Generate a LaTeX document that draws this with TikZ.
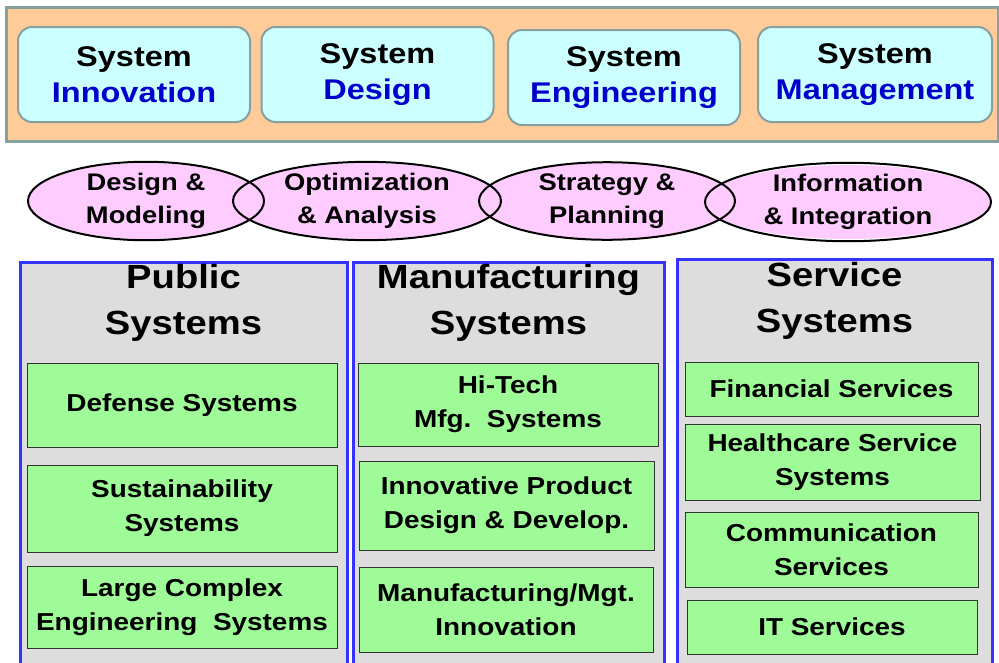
\documentclass[tikz,border=0pt]{standalone}
\usepackage{fontspec}
\setmainfont{Liberation Sans}[FakeStretch=1.14]
\usetikzlibrary{shapes.geometric}
\definecolor{peach}{HTML}{FFCC99}
\definecolor{tealgray}{HTML}{86A0A0}
\definecolor{lcyan}{HTML}{CCFFFF}
\definecolor{dblue}{HTML}{0000CC}
\definecolor{lpink}{HTML}{FFCCFF}
\definecolor{lgray}{HTML}{DDDDDD}
\definecolor{cblue}{HTML}{3333FF}
\definecolor{lgreen}{HTML}{9FFA98}
\tikzset{
  topbox/.style={draw=tealgray, line width=2pt, fill=lcyan, rounded corners=14pt,
    minimum width=232pt, minimum height=95pt, align=center, inner sep=0pt,
    font=\fontsize{28.5pt}{38pt}\selectfont\bfseries},
  ovaltext/.style={draw=black, line width=2pt, ellipse, minimum height=76pt, inner sep=0pt,
    align=center, font=\fontsize{24pt}{33pt}\selectfont\bfseries},
  colbox/.style={draw=cblue, line width=3pt, fill=lgray},
  colhead/.style={align=center, inner sep=0pt, font=\fontsize{33.5pt}{46pt}\selectfont\bfseries},
  gbox/.style={draw=black!80, line width=0.8pt, fill=lgreen, align=center, inner sep=0pt,
    font=\fontsize{24.5pt}{34pt}\selectfont\bfseries}
}
\begin{document}
\begin{tikzpicture}[x=1pt,y=-1pt]
\useasboundingbox (0,0) rectangle (999,662);
\begin{scope}
\clip (0,0) rectangle (999,662);
% top band
\node[draw=tealgray, line width=2.5pt, fill=peach, minimum width=992pt, minimum height=134pt, anchor=north west, inner sep=0pt] (band) at (5,6) {};
\node[topbox] (t1) at (134,74.5) {System\\[-2pt]\textcolor{dblue}{Innovation}};
\node[topbox] (t2) at (377.5,74.5) {System\\[-2pt]\textcolor{dblue}{Design}};
\node[topbox] (t3) at (624,77.5) {System\\[-2pt]\textcolor{dblue}{Engineering}};
\node[topbox, minimum width=234pt] (t4) at (875,74.5) {System\\[-2pt]\textcolor{dblue}{Management}};
% ellipses: fills first
\fill[lpink] (146,201) ellipse [x radius=118, y radius=38];
\fill[lpink] (367,201) ellipse [x radius=134, y radius=38];
\fill[lpink] (607,201) ellipse [x radius=128, y radius=38];
\fill[lpink] (848,202) ellipse [x radius=143, y radius=37];
\node[ovaltext, minimum width=236pt] (e1) at (146,201) {Design \&\\Modeling};
\node[ovaltext, minimum width=268pt] (e2) at (367,201) {Optimization\\\& Analysis};
\node[ovaltext, minimum width=256pt] (e3) at (607,201) {Strategy \&\\Planning};
\node[ovaltext, minimum width=286pt, minimum height=74pt] (e4) at (848,202) {Information\\\& Integration};
% columns
\draw[colbox] (20,670) -- (20,262) -- (347,262) -- (347,670);
\draw[colbox] (353,670) -- (353,262) -- (664,262) -- (664,670);
\draw[colbox] (677,670) -- (677,259) -- (992,259) -- (992,670);
\node[colhead] (h1) at (183.5,303) {Public\\Systems};
\node[colhead] (h2) at (508.5,303) {Manufacturing\\Systems};
\node[colhead] (h3) at (834.5,301) {Service\\Systems};
% public
\node[gbox, minimum width=310pt, minimum height=84pt] (p1) at (182,405) {Defense Systems};
\node[gbox, minimum width=310pt, minimum height=87pt] (p2) at (182,508.5) {Sustainability\\Systems};
\node[gbox, minimum width=310pt, minimum height=82pt] (p3) at (182,607) {Large Complex\\Engineering~~Systems};
% manufacturing
\node[gbox, minimum width=300pt, minimum height=83pt] (m1) at (508,404.5) {Hi-Tech\\Mfg.~~Systems};
\node[gbox, minimum width=295pt, minimum height=89pt] (m2) at (506.5,505.5) {Innovative Product\\Design \& Develop.};
\node[gbox, minimum width=294pt, minimum height=85pt] (m3) at (506,609.5) {Manufacturing/Mgt.\\Innovation};
% service
\node[gbox, minimum width=293pt, minimum height=54pt] (s1) at (831.5,389) {Financial Services};
\node[gbox, minimum width=295pt, minimum height=76pt] (s2) at (832.5,462) {Healthcare Service\\Systems};
\node[gbox, minimum width=293pt, minimum height=75pt] (s3) at (831.5,549.5) {Communication\\Services};
\node[gbox, minimum width=290pt, minimum height=54pt] (s4) at (832,627) {IT Services};
\end{scope}
\end{tikzpicture}
\end{document}
